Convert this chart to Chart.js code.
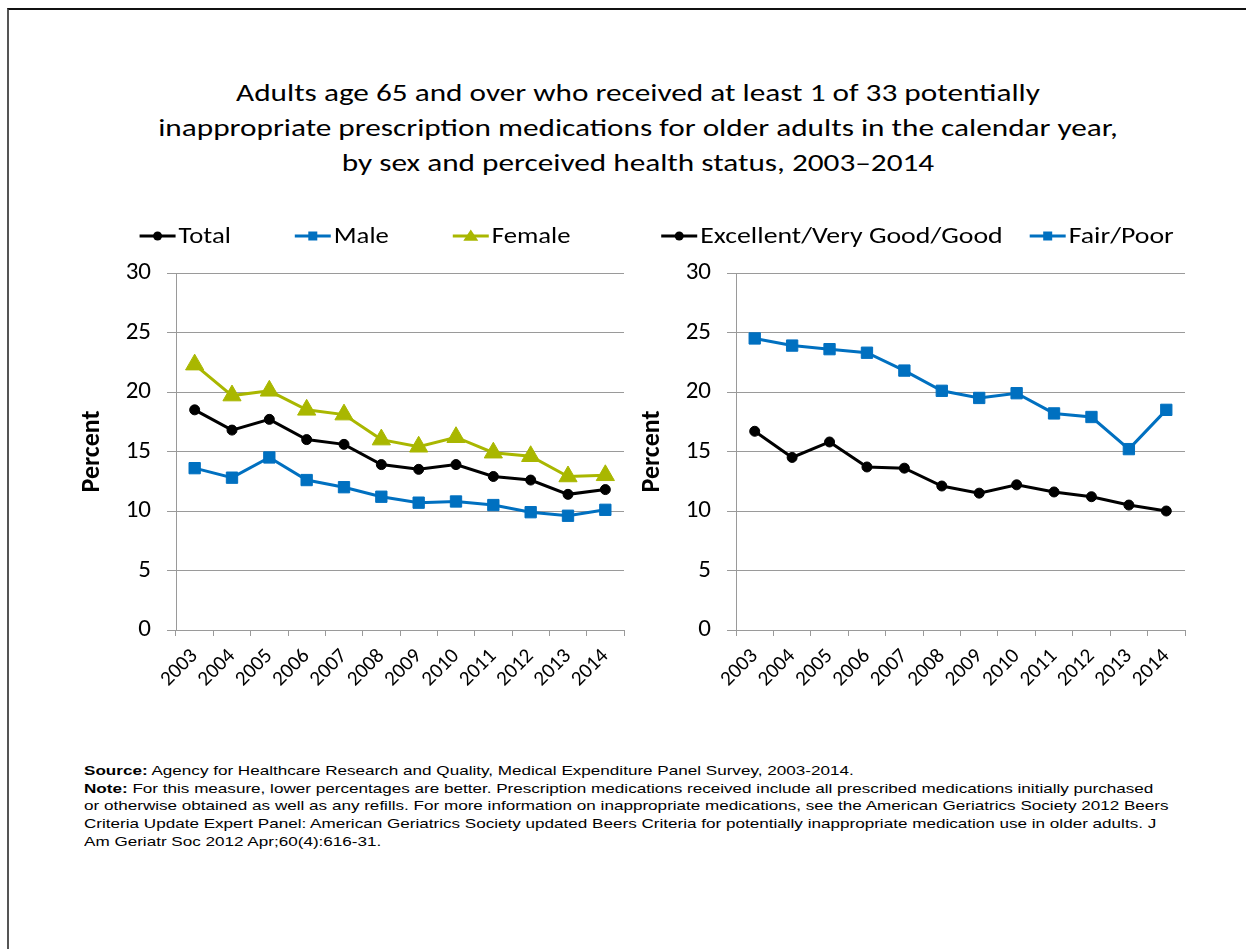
<!DOCTYPE html>
<html>
<head>
<meta charset="utf-8">
<script src="https://cdn.jsdelivr.net/npm/chart.js@4.4.1/dist/chart.umd.min.js"></script>
<style>
  body { margin: 0; width: 1246px; height: 949px; background: #fff; position: relative; overflow: hidden; font-family: Carlito, Calibri, Lato, sans-serif; }
  #frame { position: absolute; left: 7px; top: 8px; right: 0; bottom: -2px; border-top: 2px solid #111; border-left: 2px solid #555; }
  #title { position: absolute; left: 0; width: 1276px; top: 75px; text-align: center; font-size: 25px; line-height: 35px; color: #000; transform: scaleX(1.25); transform-origin: 638px 0; }
  .chart { position: absolute; top: 215px; }
  #notes { position: absolute; left: 84px; top: 762px; font-family: "Liberation Sans", Arial, sans-serif; font-size: 13.3px; line-height: 17.7px; color: #000; white-space: nowrap; transform: scaleX(1.285); transform-origin: 0 0; }
</style>
</head>
<body>
<div id="frame"></div>
<div id="title">Adults age 65 and over who received at least 1 of 33 potentially<br>inappropriate prescription medications for older adults in the calendar year,<br>by sex and perceived health status, 2003–2014</div>
<canvas id="sexChart" class="chart" width="570" height="500" style="left:70px"></canvas>
<canvas id="healthChart" class="chart" width="575" height="500" style="left:630px"></canvas>
<div id="notes">
<b>Source:</b> Agency for Healthcare Research and Quality, Medical Expenditure Panel Survey, 2003-2014.<br>
<b>Note:</b> For this measure, lower percentages are better. Prescription medications received include all prescribed medications initially purchased<br>
or otherwise obtained as well as any refills. For more information on inappropriate medications, see the American Geriatrics Society 2012 Beers<br>
Criteria Update Expert Panel: American Geriatrics Society updated Beers Criteria for potentially inappropriate medication use in older adults. J<br>
Am Geriatr Soc 2012 Apr;60(4):616-31.
</div>
<script>
const years = ['2003', '2004', '2005', '2006', '2007', '2008', '2009', '2010', '2011', '2012', '2013', '2014'];
const yTicks = [0, 5, 10, 15, 20, 25, 30];

const total = [18.5, 16.8, 17.7, 16.0, 15.6, 13.9, 13.5, 13.9, 12.9, 12.6, 11.4, 11.8];
const male = [13.6, 12.8, 14.5, 12.6, 12.0, 11.2, 10.7, 10.8, 10.5, 9.9, 9.6, 10.1];
const female = [22.3, 19.7, 20.1, 18.5, 18.1, 16.0, 15.4, 16.2, 14.9, 14.6, 12.9, 13.0];
const goodHealth = [16.7, 14.5, 15.8, 13.7, 13.6, 12.1, 11.5, 12.2, 11.6, 11.2, 10.5, 10.0];
const poorHealth = [24.5, 23.9, 23.6, 23.3, 21.8, 20.1, 19.5, 19.9, 18.2, 17.9, 15.2, 18.5];

const FONT = 'Carlito, Calibri, Lato, sans-serif';
const GRID = '#9a9a9a';

// small marker drawer for the legend samples
function marker(ctx, style, x, y, r) {
  ctx.beginPath();
  if (style === 'circle') {
    ctx.arc(x, y, r, 0, Math.PI * 2);
  } else if (style === 'rect') {
    ctx.rect(x - r, y - r, r * 2, r * 2);
  } else if (style === 'triangle') {
    ctx.moveTo(x, y - r * 1.1);
    ctx.lineTo(x + r * 1.25, y + r * 0.8);
    ctx.lineTo(x - r * 1.25, y + r * 0.8);
    ctx.closePath();
  }
  ctx.fill();
}

// Excel style legend: line sample with marker, then the label
const lineLegend = {
  id: 'lineLegend',
  afterDraw(chart, args, opts) {
    const ctx = chart.ctx;
    const sets = chart.data.datasets;
    ctx.save();
    ctx.font = opts.size + 'px ' + FONT;
    const widths = sets.map(ds => opts.sample + opts.textGap + ctx.measureText(ds.label).width * opts.stretch);
    const all = widths.reduce((a, b) => a + b, 0) + opts.gap * (sets.length - 1);
    let x = (chart.width - all) / 2;
    const y = opts.y;
    sets.forEach((ds, i) => {
      ctx.strokeStyle = ds.borderColor;
      ctx.fillStyle = ds.borderColor;
      ctx.lineWidth = 3;
      ctx.beginPath();
      ctx.moveTo(x, y);
      ctx.lineTo(x + opts.sample, y);
      ctx.stroke();
      marker(ctx, ds.pointStyle, x + opts.sample / 2, y, ds.pointStyle === 'triangle' ? 6 : 4.5);
      ctx.save();
      ctx.translate(x + opts.sample + opts.textGap, y + 1);
      ctx.scale(opts.stretch, 1);
      ctx.fillStyle = '#000';
      ctx.textBaseline = 'middle';
      ctx.textAlign = 'left';
      ctx.fillText(ds.label, 0, 0);
      ctx.restore();
      x += widths[i] + opts.gap;
    });
    ctx.restore();
  }
};

function series(label, data, color, style, radius) {
  return {
    label: label,
    data: data,
    borderColor: color,
    backgroundColor: color,
    borderWidth: 3,
    pointStyle: style,
    pointRadius: radius,
    pointBorderWidth: 1,
    pointBackgroundColor: color,
    pointBorderColor: color,
    tension: 0
  };
}

function makeChart(id, datasets, legendGap, stretch, padRight) {
  return new Chart(document.getElementById(id), {
    type: 'line',
    data: { labels: years, datasets: datasets },
    plugins: [lineLegend],
    options: {
      responsive: false,
      animation: false,
      devicePixelRatio: 1,
      layout: { padding: { top: 58, right: padRight, left: 0, bottom: 0 } },
      plugins: {
        legend: { display: false },
        tooltip: { enabled: false },
        lineLegend: { y: 21, size: 23, stretch: stretch, sample: 36, textGap: 3, gap: legendGap }
      },
      scales: {
        x: {
          offset: true,
          grid: { offset: true, drawOnChartArea: false, drawTicks: true, tickLength: 6, color: GRID, lineWidth: 1 },
          border: { color: GRID, width: 1 },
          ticks: { autoSkip: false, maxRotation: 45, minRotation: 45, color: '#000', padding: 8, font: { family: FONT, size: 21 } },
          afterFit: s => { s.height = 85; }
        },
        y: {
          min: 0,
          max: 30,
          afterBuildTicks: s => { s.ticks = yTicks.map(v => ({ value: v })); },
          grid: { color: GRID, lineWidth: 1, tickLength: 9 },
          border: { color: GRID, width: 1 },
          ticks: { color: '#000', padding: 16, font: { family: FONT, size: 25 } },
          title: { display: true, text: 'Percent', color: '#000', padding: { top: 7, bottom: 0 }, font: { family: FONT, size: 26, weight: 'bold' } },
          afterFit: s => { s.width = 106; }
        }
      }
    }
  });
}

makeChart('sexChart', [
  series('Total', total, '#000000', 'circle', 5),
  series('Male', male, '#0070C0', 'rect', 8),
  series('Female', female, '#A9B700', 'triangle', 10.5)
], 64, 1.16, 16);

makeChart('healthChart', [
  series('Excellent/Very Good/Good', goodHealth, '#000000', 'circle', 5),
  series('Fair/Poor', poorHealth, '#0070C0', 'rect', 8)
], 27, 1.21, 20);
</script>
</body>
</html>
